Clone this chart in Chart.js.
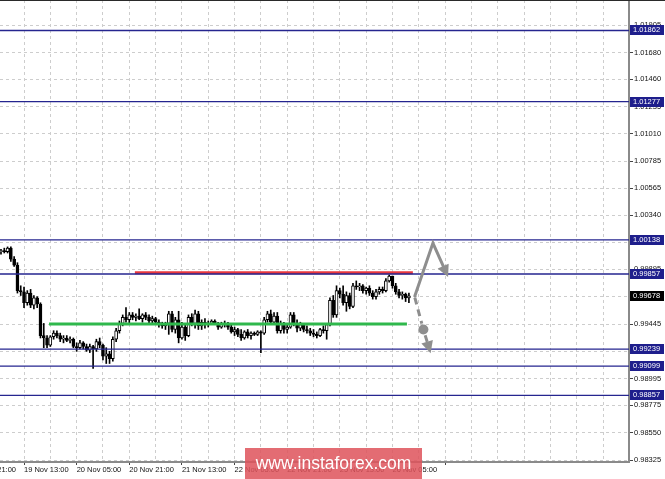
<!DOCTYPE html>
<html>
<head>
<meta charset="utf-8">
<script src="https://cdn.jsdelivr.net/npm/chart.js@4.4.1/dist/chart.umd.min.js"></script>
<style>
  body { margin: 0; background: #fff; }
  canvas { display: block; }
</style>
</head>
<body>
<canvas id="grafico" width="665" height="479"></canvas>
<script>
// --- Dados (barras H1, a primeira visível é a barra 9) ---
const firstBar = 9;

const opens = [
  1.0004, 1.0005, 1.0004, 1.0007, 0.9998, 0.9993, 0.9972, 0.9971, 0.9962, 0.9970,
  0.9960, 0.9966, 0.9961, 0.9935, 0.9933, 0.9927, 0.9934, 0.9937, 0.9935, 0.9932,
  0.9933, 0.9931, 0.9932, 0.9926, 0.9925, 0.9929, 0.9926, 0.9923, 0.9926, 0.9924,
  0.9930, 0.9927, 0.9918, 0.9920, 0.9916, 0.9932, 0.9939, 0.9945, 0.9950, 0.9948,
  0.9952, 0.9950, 0.9951, 0.9949, 0.9952, 0.9950, 0.9947, 0.9949, 0.9946, 0.9944,
  0.9943, 0.9945, 0.9953, 0.9940, 0.9948, 0.9933, 0.9942, 0.9935, 0.9950, 0.9945,
  0.9953, 0.9943, 0.9946, 0.9944, 0.9945, 0.9947, 0.9945, 0.9942, 0.9945, 0.9944,
  0.9942, 0.9938, 0.9940, 0.9936, 0.9933, 0.9938, 0.9935, 0.9937, 0.9936, 0.9938,
  0.9937, 0.9948, 0.9953, 0.9946, 0.9951, 0.9939, 0.9945, 0.9940, 0.9942, 0.9952,
  0.9945, 0.9941, 0.9944, 0.9940, 0.9939, 0.9937, 0.9936, 0.9935, 0.9940, 0.9939,
  0.9944, 0.9964, 0.9952, 0.9972, 0.9969, 0.9962, 0.9968, 0.9959, 0.9976, 0.9975,
  0.9976, 0.9972, 0.9974, 0.9970, 0.9967, 0.9971, 0.9973, 0.9972, 0.9980, 0.9984,
  0.9976, 0.9971, 0.9968, 0.9969, 0.9966
];
const highs = [
  1.0006, 1.0007, 1.0008, 1.0008, 1.0000, 0.9995, 0.9976, 0.9975, 0.9972, 0.9973,
  0.9968, 0.9967, 0.9962, 0.9945, 0.9935, 0.9935, 0.9939, 0.9939, 0.9937, 0.9935,
  0.9935, 0.9934, 0.9933, 0.9929, 0.9931, 0.9930, 0.9928, 0.9928, 0.9927, 0.9932,
  0.9933, 0.9928, 0.9925, 0.9922, 0.9934, 0.9941, 0.9947, 0.9952, 0.9958, 0.9954,
  0.9954, 0.9953, 0.9957, 0.9953, 0.9954, 0.9952, 0.9951, 0.9950, 0.9948, 0.9946,
  0.9946, 0.9955, 0.9955, 0.9950, 0.9955, 0.9946, 0.9944, 0.9952, 0.9953, 0.9956,
  0.9955, 0.9948, 0.9949, 0.9947, 0.9948, 0.9948, 0.9946, 0.9946, 0.9947, 0.9946,
  0.9944, 0.9942, 0.9941, 0.9940, 0.9939, 0.9940, 0.9938, 0.9938, 0.9939, 0.9939,
  0.9950, 0.9955, 0.9956, 0.9954, 0.9954, 0.9947, 0.9946, 0.9944, 0.9954, 0.9954,
  0.9948, 0.9946, 0.9945, 0.9943, 0.9941, 0.9940, 0.9938, 0.9941, 0.9943, 0.9945,
  0.9966, 0.9968, 0.9976, 0.9974, 0.9976, 0.9971, 0.9970, 0.9978, 0.9980, 0.9978,
  0.9977, 0.9975, 0.9976, 0.9972, 0.9973, 0.9975, 0.9975, 0.9982, 0.9985, 0.9984,
  0.9978, 0.9973, 0.9971, 0.9970, 0.9970
];
const lows = [
  1.0002, 1.0003, 1.0003, 0.9996, 0.9992, 0.9970, 0.9968, 0.9958, 0.9960, 0.9958,
  0.9957, 0.9958, 0.9933, 0.9925, 0.9925, 0.9926, 0.9932, 0.9933, 0.9930, 0.9929,
  0.9930, 0.9929, 0.9925, 0.9922, 0.9924, 0.9924, 0.9922, 0.9921, 0.9908, 0.9922,
  0.9925, 0.9915, 0.9912, 0.9912, 0.9914, 0.9930, 0.9937, 0.9943, 0.9946, 0.9945,
  0.9948, 0.9947, 0.9948, 0.9946, 0.9948, 0.9945, 0.9945, 0.9944, 0.9942, 0.9941,
  0.9940, 0.9936, 0.9938, 0.9937, 0.9929, 0.9932, 0.9931, 0.9934, 0.9943, 0.9941,
  0.9940, 0.9940, 0.9941, 0.9942, 0.9944, 0.9944, 0.9940, 0.9941, 0.9942, 0.9940,
  0.9937, 0.9935, 0.9934, 0.9931, 0.9932, 0.9933, 0.9932, 0.9935, 0.9935, 0.9921,
  0.9936, 0.9946, 0.9944, 0.9944, 0.9937, 0.9937, 0.9937, 0.9937, 0.9941, 0.9943,
  0.9938, 0.9939, 0.9938, 0.9937, 0.9935, 0.9934, 0.9933, 0.9934, 0.9937, 0.9932,
  0.9943, 0.9950, 0.9950, 0.9966, 0.9960, 0.9955, 0.9957, 0.9958, 0.9973, 0.9972,
  0.9970, 0.9969, 0.9968, 0.9965, 0.9965, 0.9969, 0.9970, 0.9971, 0.9979, 0.9974,
  0.9969, 0.9966, 0.9965, 0.9963, 0.9962
];
const closes = [
  1.0005, 1.0004, 1.0007, 0.9998, 0.9993, 0.9972, 0.9971, 0.9962, 0.9970, 0.9960,
  0.9966, 0.9961, 0.9935, 0.9933, 0.9927, 0.9934, 0.9937, 0.9935, 0.9932, 0.9933,
  0.9931, 0.9932, 0.9926, 0.9925, 0.9929, 0.9926, 0.9923, 0.9926, 0.9924, 0.9930,
  0.9927, 0.9918, 0.9920, 0.9916, 0.9932, 0.9939, 0.9945, 0.9950, 0.9948, 0.9952,
  0.9950, 0.9951, 0.9949, 0.9952, 0.9950, 0.9947, 0.9949, 0.9946, 0.9944, 0.9943,
  0.9945, 0.9953, 0.9940, 0.9948, 0.9933, 0.9942, 0.9935, 0.9950, 0.9945, 0.9953,
  0.9943, 0.9946, 0.9944, 0.9945, 0.9947, 0.9945, 0.9942, 0.9945, 0.9944, 0.9942,
  0.9938, 0.9940, 0.9936, 0.9933, 0.9938, 0.9935, 0.9937, 0.9936, 0.9938, 0.9937,
  0.9948, 0.9953, 0.9946, 0.9951, 0.9939, 0.9945, 0.9940, 0.9942, 0.9952, 0.9945,
  0.9941, 0.9944, 0.9940, 0.9939, 0.9937, 0.9936, 0.9935, 0.9940, 0.9939, 0.9944,
  0.9964, 0.9952, 0.9972, 0.9969, 0.9962, 0.9968, 0.9959, 0.9976, 0.9975, 0.9976,
  0.9972, 0.9974, 0.9970, 0.9967, 0.9971, 0.9973, 0.9972, 0.9980, 0.9984, 0.9976,
  0.9971, 0.9968, 0.9969, 0.9966, 0.99678
];

// rótulos de tempo, um a cada 16 barras a partir da barra 0
const timeLabels = [
  "18 Nov 21:00", "19 Nov 13:00", "20 Nov 05:00", "20 Nov 21:00", "21 Nov 13:00",
  "22 Nov 05:00", "22 Nov 21:00", "25 Nov 13:00", "26 Nov 05:00"
];
const priceTicks = [
  1.01905, 1.01680, 1.01460, 1.01235, 1.01010, 1.00785, 1.00565, 1.00340, 1.00115,
  0.99895, 0.99670, 0.99445, 0.99220, 0.98995, 0.98775, 0.98550, 0.98325
];
const levels = [1.01862, 1.01277, 1.00138, 0.99857, 0.99239, 0.99099, 0.98857];
const lastPrice = 0.99678;

// linhas desenhadas (barra inicial, barra final, preço)
const resistance = [49.7, 134.2, 0.99868];
const support = [23.6, 132.4, 0.99445];
// setas: pontos [barra, preço]
const arrowUp = [[134.8, 0.99675], [140.3, 1.00112], [144.9, 0.99832]];
const arrowDown = [[134.8, 0.99662], [137.4, 0.99400], [139.6, 0.99205]];

const X_MIN = 8.7, X_MAX = 199.9;
const Y_MIN = 0.98309, Y_MAX = 1.02113;
const FONT = { family: "Liberation Sans", size: 7.5 };

// --- Montar datasets ---
const wicks = highs.map((h, k) => ({ x: firstBar + k, y: [lows[k], h] }));
const bodies = opens.map((o, k) => ({ x: firstBar + k, y: [o, closes[k]] }));
const bodyColors = opens.map((o, k) => closes[k] >= o ? "#ffffff" : "#000000");

function hLine(v, from, to, color, width) {
  return {
    type: "line",
    data: [{ x: from, y: v }, { x: to, y: v }],
    borderColor: color,
    borderWidth: width,
    pointRadius: 0,
    order: 0
  };
}

const datasets = [
  ...levels.map(v => hLine(v, X_MIN, X_MAX, "#25258f", 1.3)),
  hLine(resistance[2], resistance[0], resistance[1], "#e8383e", 3),
  hLine(support[2], support[0], support[1], "#2fb84c", 3),
  {
    data: bodies,
    backgroundColor: bodyColors,
    borderColor: "#000",
    borderWidth: 1,
    borderSkipped: false,
    barThickness: 3,
    minBarLength: 1,
    grouped: false,
    order: 1
  },
  {
    data: wicks,
    backgroundColor: "#000",
    barThickness: 1,
    grouped: false,
    order: 2
  }
];

// --- Desenhos extras: setas, caixas de preço, marca d'água ---
function head(ctx, from, to, len, half) {
  const a = Math.atan2(to[1] - from[1], to[0] - from[0]);
  ctx.beginPath();
  ctx.moveTo(to[0], to[1]);
  ctx.lineTo(to[0] - len * Math.cos(a) + half * Math.sin(a), to[1] - len * Math.sin(a) - half * Math.cos(a));
  ctx.lineTo(to[0] - len * Math.cos(a) - half * Math.sin(a), to[1] - len * Math.sin(a) + half * Math.cos(a));
  ctx.closePath();
  ctx.fill();
}

function shorten(from, to, d) {
  const dx = to[0] - from[0], dy = to[1] - from[1];
  const l = Math.hypot(dx, dy);
  return [to[0] - dx / l * d, to[1] - dy / l * d];
}

const extras = {
  id: "extras",
  afterDatasetsDraw(chart) {
    const { ctx, scales: { x, y } } = chart;
    const px = p => [x.getPixelForValue(p[0]), y.getPixelForValue(p[1])];
    ctx.save();
    ctx.strokeStyle = "#8e8e8e";
    ctx.fillStyle = "#8e8e8e";
    ctx.lineWidth = 3;
    ctx.lineCap = "round";

    const up = arrowUp.map(px);
    ctx.beginPath();
    ctx.moveTo(up[0][0], up[0][1]);
    ctx.lineTo(up[1][0], up[1][1]);
    const upEnd = shorten(up[1], up[2], 8);
    ctx.lineTo(upEnd[0], upEnd[1]);
    ctx.stroke();
    head(ctx, up[1], up[2], 12, 6);

    const dn = arrowDown.map(px);
    ctx.setLineDash([7, 5]);
    ctx.lineCap = "butt";
    const s1 = shorten(dn[0], dn[1], 6);
    ctx.beginPath();
    ctx.moveTo(dn[0][0], dn[0][1]);
    ctx.lineTo(s1[0], s1[1]);
    ctx.stroke();
    const s2 = shorten(dn[2], dn[1], 6);
    const s3 = shorten(dn[1], dn[2], 8);
    ctx.beginPath();
    ctx.moveTo(s2[0], s2[1]);
    ctx.lineTo(s3[0], s3[1]);
    ctx.stroke();
    ctx.setLineDash([]);
    ctx.beginPath();
    ctx.arc(dn[1][0], dn[1][1], 5, 0, Math.PI * 2);
    ctx.fill();
    head(ctx, dn[1], dn[2], 12, 6);
    ctx.restore();
  },
  afterDraw(chart) {
    const { ctx, scales: { y }, chartArea } = chart;
    ctx.save();
    ctx.font = "7.5px 'Liberation Sans'";
    ctx.textBaseline = "middle";
    const box = (v, color) => {
      const yp = Math.round(y.getPixelForValue(v));
      ctx.fillStyle = color;
      ctx.fillRect(chartArea.right + 1, yp - 5, 34, 10);
      ctx.fillStyle = "#fff";
      ctx.fillText(v.toFixed(5), chartArea.right + 4, yp);
    };
    levels.forEach(v => box(v, "#1e1e8c"));
    box(lastPrice, "#000");

    // borda superior
    ctx.fillStyle = "#2a2a2a";
    ctx.fillRect(0, 0, chart.width, 1);

    // marca d'água
    ctx.fillStyle = "rgba(222, 84, 92, 0.86)";
    ctx.fillRect(245, 448, 177, 31);
    ctx.fillStyle = "#fff";
    ctx.font = "17.5px 'Liberation Sans'";
    ctx.textAlign = "center";
    ctx.fillText("www.instaforex.com", 333.5, 464);
    ctx.restore();
  }
};

// --- Gráfico ---
new Chart(document.getElementById("grafico").getContext("2d"), {
  type: "bar",
  data: { datasets },
  options: {
    responsive: false,
    animation: false,
    layout: { padding: 0 },
    plugins: { legend: { display: false }, tooltip: { enabled: false } },
    scales: {
      x: {
        type: "linear",
        min: X_MIN,
        max: X_MAX,
        bounds: "data",
        offset: false,
        grid: {
          offset: false,
          color: "#cdcdcd",
          tickLength: 3,
          tickColor: c => (c.tick && c.tick.value % 16 === 0 && c.tick.value <= 144) ? "#444" : "rgba(0,0,0,0)"
        },
        border: { color: "#8a8a8a", width: 2, dash: [3, 3] },
        ticks: {
          autoSkip: false,
          maxRotation: 0,
          align: "start",
          padding: 0,
          color: "#111",
          font: FONT,
          callback: v => (v % 16 === 0 && timeLabels[v / 16]) ? timeLabels[v / 16] : ""
        },
        afterBuildTicks: s => {
          s.ticks = [];
          for (let v = 0; v <= 192; v += 8) s.ticks.push({ value: v });
        },
        afterFit: s => {
          s.height = 17;
          s.paddingLeft = 0;
          s.paddingRight = 0;
        }
      },
      y: {
        type: "linear",
        position: "right",
        min: Y_MIN,
        max: Y_MAX,
        bounds: "data",
        beginAtZero: false,
        grid: { color: "#cdcdcd", tickLength: 4, tickColor: "#444" },
        border: { color: "#8a8a8a", width: 2, dash: [3, 3] },
        ticks: {
          autoSkip: false,
          padding: 1,
          color: "#111",
          font: FONT,
          callback: v => v.toFixed(5)
        },
        afterBuildTicks: s => {
          s.ticks = priceTicks.map(v => ({ value: v }));
        },
        afterFit: s => {
          s.width = 36;
          s.paddingTop = 0;
          s.paddingBottom = 0;
        }
      }
    }
  },
  plugins: [extras]
});
</script>
</body>
</html>
